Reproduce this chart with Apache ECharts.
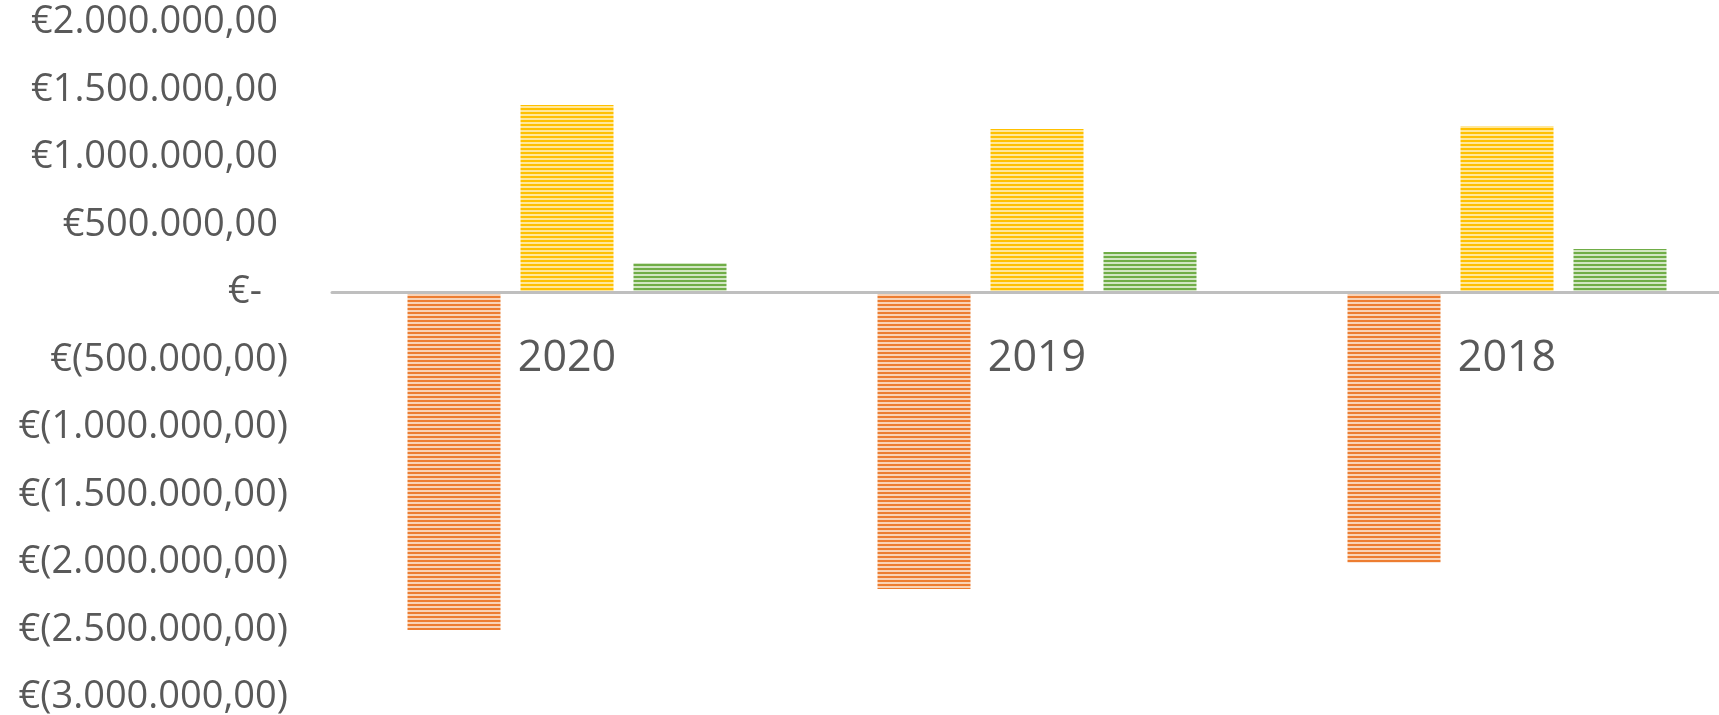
<!DOCTYPE html>
<html>
<head>
<meta charset="utf-8">
<script src="https://cdn.jsdelivr.net/npm/echarts@6/dist/echarts.min.js"></script>
<style>
html,body{margin:0;padding:0;background:#fff;}
#chart{width:1719px;height:715px;}
</style>
</head>
<body>
<div id="chart"></div>
<script>
// ---- data ----
const categories = ['2020', '2019', '2018'];
const seriesOrange = [-2500000, -2196000, -2000000];
const seriesYellow = [1389000, 1211000, 1233000];
const seriesGreen = [219000, 300000, 322000];
const yMin = -3000000;
const yMax = 2000000;
const yStep = 500000;

// ---- helpers ----
function stripe(color, light) {
  const c = document.createElement('canvas');
  c.width = 4; c.height = 4;
  const ctx = c.getContext('2d');
  ctx.fillStyle = light; ctx.fillRect(0, 0, 4, 4);
  ctx.fillStyle = color; ctx.fillRect(0, 0, 4, 2);
  return { image: c, repeat: 'repeat' };
}
function fmtNum(v) {
  const s = Math.round(Math.abs(v)).toString().replace(/\B(?=(\d{3})+(?!\d))/g, '.');
  return s + ',00';
}
function yLabel(v) {
  if (v === 0) return '{z|€-}';
  if (v < 0) return '{n|€(' + fmtNum(v) + ')}';
  return '{p|€' + fmtNum(v) + '}';
}

const labelFont = 'Open Sans';
const labelColor = '#595959';
const gridTop = 22.5, gridBottom = 17.5, chartH = 715;
// pixel distance from bottom of grid up to the zero value (derived from axis range)
const zeroOffset = (chartH - gridTop - gridBottom) * (0 - yMin) / (yMax - yMin);

const chart = echarts.init(document.getElementById('chart'), null, { renderer: 'canvas' });
chart.setOption({
  animation: false,
  backgroundColor: '#ffffff',
  grid: { left: 332, right: -23, top: gridTop, bottom: gridBottom, containLabel: false, outerBoundsMode: 'none' },
  xAxis: {
    type: 'category',
    data: categories,
    position: 'bottom',
    offset: -zeroOffset,
    axisLine: { onZero: false, lineStyle: { color: '#BFBFBF', width: 3 } },
    axisTick: { show: false },
    axisLabel: { show: true, interval: 0, color: labelColor, fontFamily: labelFont, fontSize: 43, margin: 45 },
    splitLine: { show: false },
    z: 5
  },
  yAxis: {
    type: 'value',
    min: yMin, max: yMax, interval: yStep,
    axisLine: { show: false },
    axisTick: { show: false },
    splitLine: { show: false },
    axisLabel: {
      margin: 44,
      formatter: yLabel,
      rich: {
        p: { color: labelColor, fontFamily: labelFont, fontSize: 38, padding: [0, 10, 0, 0] },
        n: { color: labelColor, fontFamily: labelFont, fontSize: 38 },
        z: { color: labelColor, fontFamily: labelFont, fontSize: 38, padding: [0, 26, 0, 0] }
      }
    }
  },
  series: [
    { type: 'bar', data: seriesOrange, barWidth: 93, barGap: '21.5%',
      itemStyle: { color: stripe('#ED7D31', '#F9D3B6') } },
    { type: 'bar', data: seriesYellow, barWidth: 93, barGap: '21.5%',
      itemStyle: { color: stripe('#FFC000', '#FFE799') } },
    { type: 'bar', data: seriesGreen, barWidth: 93, barGap: '21.5%',
      itemStyle: { color: stripe('#70AD47', '#D2E6C3') } }
  ]
});
</script>
</body>
</html>
